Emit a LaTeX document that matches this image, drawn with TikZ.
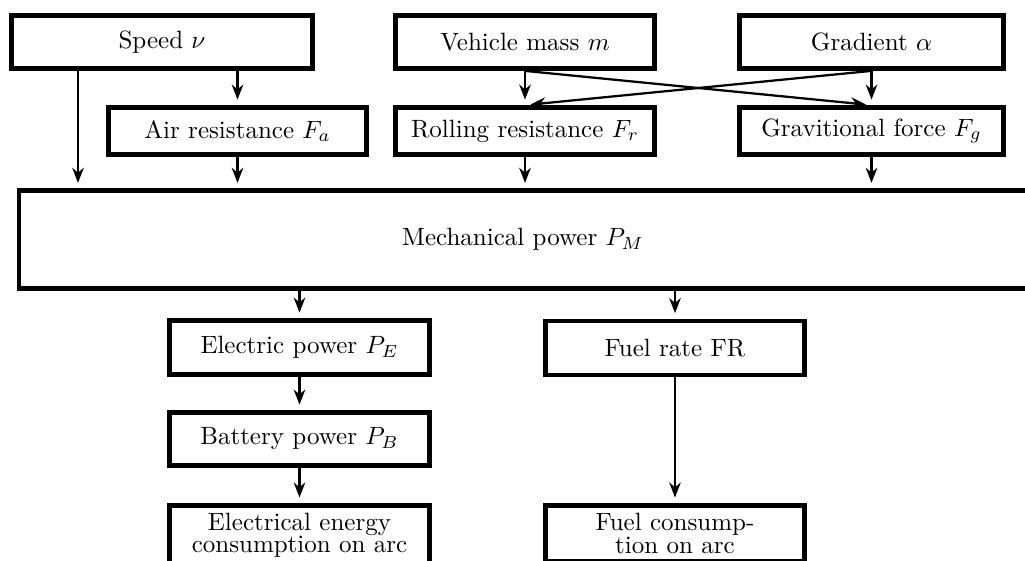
\documentclass[tikz,border=0pt]{standalone}
\usetikzlibrary{arrows.meta,calc}
\begin{document}
\begin{tikzpicture}[x=0.4pt,y=-0.4pt,
  box/.style={draw,line width=1.9pt,rectangle,align=center,inner sep=2pt},
  arr/.style={line width=0.9pt,-{Stealth[length=6pt,width=4.6pt,inset=1.9pt]},shorten >=2.2pt}]
\useasboundingbox (0,0) rectangle (1025,560);
\clip (0,0) rectangle (1025,560);
% top row
\node[box,minimum width=120.4pt,minimum height=21.2pt] (speed) at (162,42) {Speed $\nu$};
\node[box,minimum width=103.6pt,minimum height=21.2pt] (mass) at (525,42) {Vehicle mass $m$};
\node[box,minimum width=105.6pt,minimum height=21.2pt] (grad) at (871.5,42) {Gradient $\alpha$};
% forces
\node[box,minimum width=103.2pt,minimum height=18.8pt] (air) at (237.5,131) {Air resistance $F_a$};
\node[box,minimum width=103.6pt,minimum height=18.8pt] (roll) at (525,131) {Rolling resistance $F_r$};
\node[box,minimum width=105.6pt,minimum height=18.8pt] (grav) at (871.5,131) {Gravitional force $F_g$};
% mechanical power
\node[box,minimum width=403.2pt,minimum height=39pt] (mech) at (523,239.5) {Mechanical power $P_M$};
% lower part
\node[box,minimum width=104pt,minimum height=21.6pt] (elec) at (299.5,347.5) {Electric power $P_E$};
\node[box,minimum width=103.6pt,minimum height=21.6pt] (frate) at (675,348) {Fuel rate FR};
\node[box,minimum width=104pt,minimum height=21.2pt] (batt) at (299.5,439) {Battery power $P_B$};
\node[box,minimum width=104pt,anchor=north,inner sep=3pt] (energy) at (299.5,503) {Electrical energy\\[-3pt] consumption on arc};
\node[box,minimum width=103.6pt,anchor=north,inner sep=3pt] (fcons) at (675,503) {Fuel consump-\\[-2.6pt] tion on arc};
% connectors
\coordinate (sv) at (78,0);
\draw[arr] (speed.south -| sv) -- (sv |- mech.north);
\draw[arr] (speed.south -| air.north) -- (air.north);
\draw[arr] (air.south) -- (air.south |- mech.north);
\draw[arr] (mass.south) -- (roll.north);
\draw[arr] (mass.south) -- (grav.north);
\draw[arr] (grad.south) -- (grav.north);
\draw[arr] (grad.south) -- (roll.north);
\draw[arr] (roll.south) -- (roll.south |- mech.north);
\draw[arr] (grav.south) -- (grav.south |- mech.north);
\draw[arr] (mech.south -| elec.north) -- (elec.north);
\draw[arr] (mech.south -| frate.north) -- (frate.north);
\draw[arr] (elec.south) -- (batt.north);
\draw[arr] (batt.south) -- (energy.north);
\draw[arr] (frate.south) -- (fcons.north);
\end{tikzpicture}
\end{document}
